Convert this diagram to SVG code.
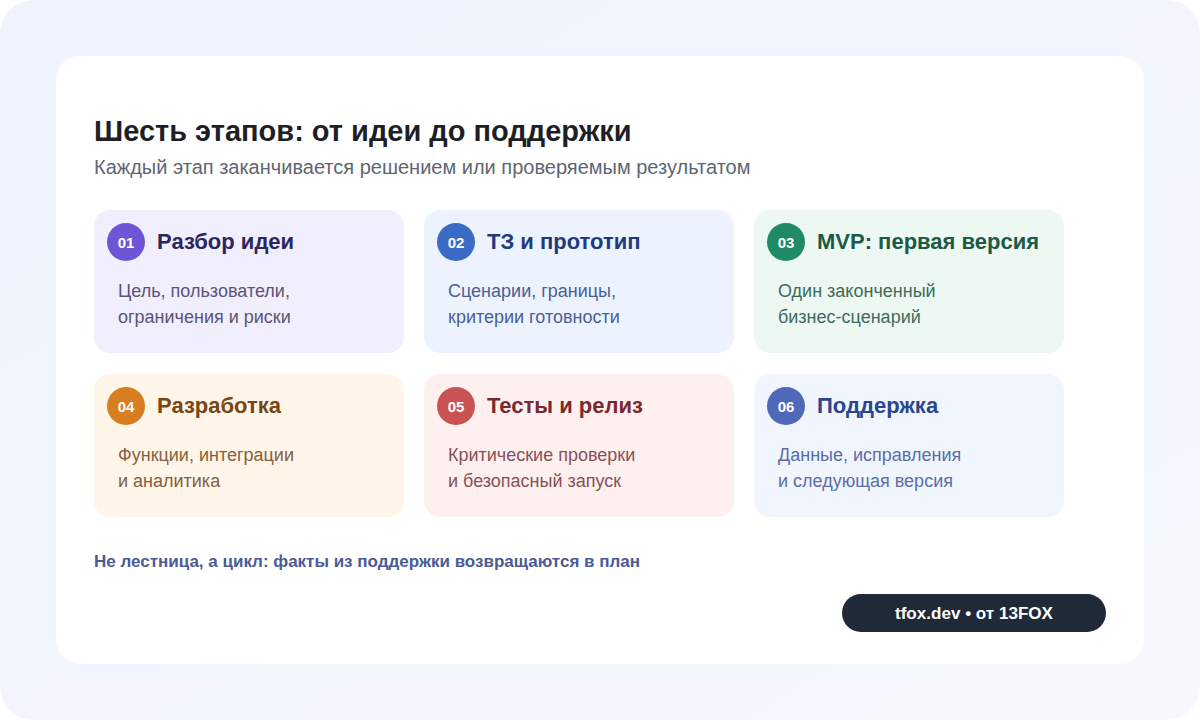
<svg xmlns="http://www.w3.org/2000/svg" width="1200" height="720" viewBox="0 0 1200 720">
<defs>
<linearGradient id="bg" x1="0" y1="0" x2="1" y2="1">
<stop offset="0" stop-color="#eef3fe"/>
<stop offset="1" stop-color="#f6f8fd"/>
</linearGradient>
<style>
text{font-family:"Liberation Sans",Arial,sans-serif}
.num{font-size:15px;font-weight:bold;fill:#fff;text-anchor:middle}
.ttl{font-size:22px;font-weight:bold}
.body{font-size:18px}
</style>
</defs>
<rect x="0" y="0" width="1200" height="720" fill="#ffffff"/>
<rect x="0" y="0" width="1200" height="720" rx="34" fill="url(#bg)"/>
<rect x="56" y="56" width="1088" height="608" rx="24" fill="#ffffff"/>
<text x="94" y="141" font-size="29" font-weight="bold" fill="#1e1f26">Шесть этапов: от идеи до поддержки</text>
<text x="94" y="174" font-size="20" fill="#5f6673">Каждый этап заканчивается решением или проверяемым результатом</text>
<g id="node1">
<rect x="94" y="210" width="310" height="143" rx="16" fill="#f1eefe"/>
<circle cx="126" cy="242" r="19" fill="#6d55d6"/>
<text class="num" x="126" y="247.5">01</text>
<text class="ttl" x="157" y="249" fill="#2b2560">Разбор идеи</text>
<text class="body" x="118" y="297" fill="#5a5478">Цель, пользователи,</text>
<text class="body" x="118" y="323" fill="#5a5478">ограничения и риски</text>
</g>
<g id="node2">
<rect x="424" y="210" width="310" height="143" rx="16" fill="#edf3fe"/>
<circle cx="456" cy="242" r="19" fill="#3a6cc6"/>
<text class="num" x="456" y="247.5">02</text>
<text class="ttl" x="487" y="249" fill="#223a7a">ТЗ и прототип</text>
<text class="body" x="448" y="297" fill="#4a5f96">Сценарии, границы,</text>
<text class="body" x="448" y="323" fill="#4a5f96">критерии готовности</text>
</g>
<g id="node3">
<rect x="754" y="210" width="310" height="143" rx="16" fill="#edf8f3"/>
<circle cx="786" cy="242" r="19" fill="#1f8a66"/>
<text class="num" x="786" y="247.5">03</text>
<text class="ttl" x="817" y="249" fill="#1d5a45">MVP: первая версия</text>
<text class="body" x="778" y="297" fill="#3f6b5a">Один законченный</text>
<text class="body" x="778" y="323" fill="#3f6b5a">бизнес-сценарий</text>
</g>
<g id="node4">
<rect x="94" y="374" width="310" height="143" rx="16" fill="#fff6e9"/>
<circle cx="126" cy="406" r="19" fill="#d77e21"/>
<text class="num" x="126" y="411.5">04</text>
<text class="ttl" x="157" y="413" fill="#7a4513">Разработка</text>
<text class="body" x="118" y="461" fill="#86603e">Функции, интеграции</text>
<text class="body" x="118" y="487" fill="#86603e">и аналитика</text>
</g>
<g id="node5">
<rect x="424" y="374" width="310" height="143" rx="16" fill="#fff0f0"/>
<circle cx="456" cy="406" r="19" fill="#c95252"/>
<text class="num" x="456" y="411.5">05</text>
<text class="ttl" x="487" y="413" fill="#7a2a2e">Тесты и релиз</text>
<text class="body" x="448" y="461" fill="#875058">Критические проверки</text>
<text class="body" x="448" y="487" fill="#875058">и безопасный запуск</text>
</g>
<g id="node6">
<rect x="754" y="374" width="310" height="143" rx="16" fill="#f0f5fe"/>
<circle cx="786" cy="406" r="19" fill="#5068b8"/>
<text class="num" x="786" y="411.5">06</text>
<text class="ttl" x="817" y="413" fill="#2b4590">Поддержка</text>
<text class="body" x="778" y="461" fill="#5a6ea8">Данные, исправления</text>
<text class="body" x="778" y="487" fill="#5a6ea8">и следующая версия</text>
</g>
<g id="connectors"></g>
<text x="94" y="567" font-size="16" font-weight="bold" fill="#4a5b95" textLength="546" lengthAdjust="spacingAndGlyphs">Не лестница, а цикл: факты из поддержки возвращаются в план</text>
<g id="badge">
<rect x="842" y="594" width="264" height="38" rx="19" fill="#1f2937"/>
<text x="974" y="619" font-size="16" font-weight="bold" fill="#ffffff" text-anchor="middle" textLength="158" lengthAdjust="spacingAndGlyphs">tfox.dev • от 13FOX</text>
</g>
</svg>
